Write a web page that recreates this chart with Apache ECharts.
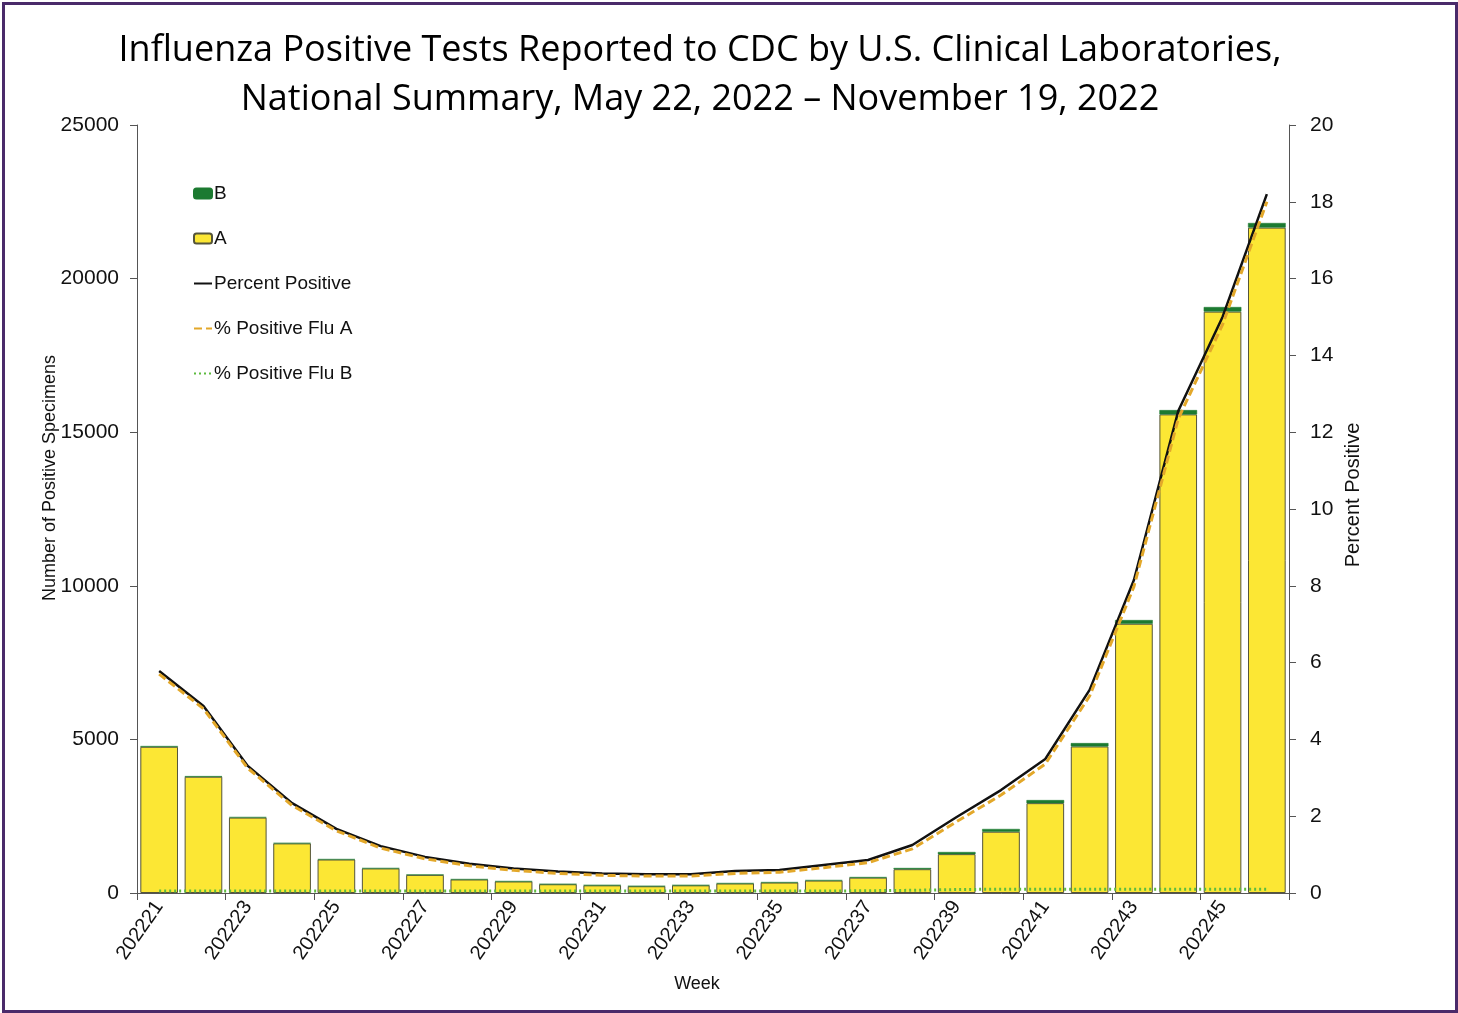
<!DOCTYPE html>
<html>
<head>
<meta charset="utf-8">
<script src="https://cdn.jsdelivr.net/npm/echarts@6/dist/echarts.min.js"></script>
<style>
html,body{margin:0;padding:0;background:#fff;}
#frame{position:absolute;left:2px;top:2px;width:1450px;height:1005px;border:3px solid #4a2a6a;}
#chart{position:absolute;left:0;top:0;width:1458px;height:1013px;}
</style>
</head>
<body>
<div id="frame"></div>
<div id="chart"></div>
<script>
const weeks = ['202221','202222','202223','202224','202225','202226','202227','202228','202229','202230','202231','202232','202233','202234','202235','202236','202237','202238','202239','202240','202241','202242','202243','202244','202245','202246'];
const fluA = [4760,3785,2455,1615,1090,800,590,440,375,285,250,220,250,310,340,405,500,775,1265,1995,2925,4770,8765,15580,18925,21660];
const fluB = [25,20,18,15,12,10,10,10,10,8,8,8,8,10,12,15,18,40,70,90,100,110,120,140,150,150];
const pctPositive = [5.78,4.87,3.31,2.34,1.67,1.22,0.94,0.76,0.64,0.56,0.51,0.49,0.49,0.57,0.60,0.73,0.86,1.25,1.98,2.68,3.49,5.29,8.15,12.55,15.0,18.2];
const pctFluA = [5.70,4.80,3.25,2.28,1.62,1.17,0.89,0.71,0.59,0.51,0.46,0.44,0.44,0.51,0.54,0.66,0.79,1.15,1.86,2.55,3.36,5.13,7.98,12.35,14.8,18.0];
const pctFluB = [0.05,0.05,0.05,0.05,0.05,0.05,0.05,0.05,0.05,0.05,0.05,0.05,0.05,0.05,0.05,0.05,0.06,0.07,0.09,0.1,0.1,0.1,0.1,0.1,0.1,0.1];
const leftTicks = [0,5000,10000,15000,20000,25000];
const rightTicks = [0,2,4,6,8,10,12,14,16,18,20];

const FONT = 'Liberation Sans, Arial, sans-serif';
const chart = echarts.init(document.getElementById('chart'));
const tickFont = {fontFamily:FONT, fontSize:21, color:'#111'};
chart.setOption({
  animation:false,
  backgroundColor:'transparent',
  graphic:[
    {type:'text', x:700, y:51, style:{text:'Influenza Positive Tests Reported to CDC by U.S. Clinical Laboratories,', textAlign:'center', textVerticalAlign:'middle', font:'36px "Open Sans", "Noto Sans"', fill:'#000'}},
    {type:'text', x:700, y:100, style:{text:'National Summary, May 22, 2022 \u2013 November 19, 2022', textAlign:'center', textVerticalAlign:'middle', font:'36px "Open Sans", "Noto Sans"', fill:'#000'}},
    {type:'text', x:50, y:478, rotation:Math.PI/2, style:{text:'Number of Positive Specimens', textAlign:'center', textVerticalAlign:'middle', font:'18px ' + FONT, fill:'#111'}},
    {type:'text', x:1353, y:495, rotation:Math.PI/2, style:{text:'Percent Positive', textAlign:'center', textVerticalAlign:'middle', font:'20px ' + FONT, fill:'#111'}},
    {type:'text', x:697, y:984, style:{text:'Week', textAlign:'center', textVerticalAlign:'middle', font:'18px ' + FONT, fill:'#111'}}
  ],
  legend:{
    orient:'vertical', left:188, top:179,
    itemWidth:18, itemHeight:10, itemGap:26,
    textStyle:{fontFamily:FONT, fontSize:19, color:'#111', padding:[0,0,0,-3]},
    data:[
      {name:'B'},
      {name:'A'},
      {name:'Percent Positive', itemStyle:{opacity:0}},
      {name:'% Positive Flu A', itemStyle:{opacity:0}},
      {name:'% Positive Flu B', itemStyle:{opacity:0}}
    ]
  },
  grid:{left:137, right:169, top:125, bottom:120, containLabel:false},
  xAxis:{
    type:'category', data:weeks,
    axisLine:{lineStyle:{color:'#555', width:1}},
    axisTick:{show:true, length:7, lineStyle:{color:'#555'}},
    axisLabel:Object.assign({interval:1, rotate:55, margin:10}, tickFont, {fontSize:20})
  },
  yAxis:[
    {type:'value', min:0, max:25000, interval:5000,
     axisLine:{show:true, lineStyle:{color:'#555'}},
     axisTick:{show:true, length:7, lineStyle:{color:'#555'}},
     splitLine:{show:false},
     axisLabel:Object.assign({margin:18, formatter:v=>leftTicks.includes(v)?String(v):''}, tickFont)},
    {type:'value', min:0, max:20, interval:2, position:'right',
     axisLine:{show:true, lineStyle:{color:'#555'}},
     axisTick:{show:true, length:7, lineStyle:{color:'#555'}},
     splitLine:{show:false},
     axisLabel:Object.assign({margin:21, formatter:v=>rightTicks.includes(v)?String(v):''}, tickFont)}
  ],
  series:[
    {name:'A', type:'bar', stack:'flu', data:fluA, barCategoryGap:'15%',
     itemStyle:{color:'#FCE734', borderColor:'#55553a', borderWidth:1}},
    {name:'B', type:'bar', stack:'flu', data:fluB, barCategoryGap:'15%',
     itemStyle:{color:'#1c7a31', borderColor:'#1c7a31', borderWidth:0.5}},
    {name:'Percent Positive', type:'line', yAxisIndex:1, data:pctPositive, showSymbol:false, symbol:'none',
     itemStyle:{color:'#111'}, lineStyle:{color:'#111', width:2.5}, z:5},
    {name:'% Positive Flu A', type:'line', yAxisIndex:1, data:pctFluA, showSymbol:false, symbol:'none',
     itemStyle:{color:'#E3A82A'}, lineStyle:{color:'#E3A82A', width:3, type:[8,4]}, z:6},
    {name:'% Positive Flu B', type:'line', yAxisIndex:1, data:pctFluB, showSymbol:false, symbol:'none',
     itemStyle:{color:'#5DBB3F'}, lineStyle:{color:'#5DBB3F', width:3, type:[2,3]}, z:6}
  ]
});
</script>
</body>
</html>
